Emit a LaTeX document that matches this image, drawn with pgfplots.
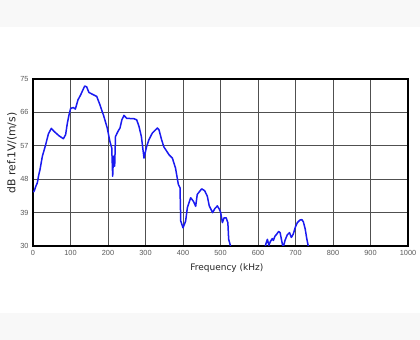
\documentclass[border=0pt]{standalone}
\usepackage{pgfplots}
\pgfplotsset{compat=1.18}
\usepackage{fontspec}
\setmainfont{Liberation Sans}
\newfontfamily\labfont{DejaVu Sans}
\definecolor{bandgray}{HTML}{F8F8F8}
\definecolor{gridgray}{HTML}{505050}
\definecolor{tickgray}{HTML}{5A5A5A}
\definecolor{curveblue}{HTML}{1A1AF0}
\begin{document}
\begin{tikzpicture}[x=1bp,y=1bp]
\useasboundingbox (0,0) rectangle (420,340);
\fill[white] (0,0) rectangle (420,340);
\fill[bandgray] (0,313) rectangle (420,340);
\fill[bandgray] (0,0) rectangle (420,27);
\begin{axis}[
  at={(33bp,94bp)}, anchor=south west,
  scale only axis, width=375bp, height=167bp,
  xmin=0, xmax=1000, ymin=30, ymax=75,
  xtick={0,100,...,1000}, ytick={30,39,48,57,66,75},
  grid=major,
  major grid style={gridgray, line width=0.7bp},
  axis line style={black, line width=1.2bp},
  tick style={draw=none},
  ticklabel style={font=\fontsize{7.4}{8}\selectfont, text=tickgray},
  xticklabel style={yshift=-1bp},
  yticklabel style={xshift=-1bp},
  /pgf/number format/assume math mode=true,
  /pgf/number format/set thousands separator={},
  xlabel={Frequency (kHz)},
  ylabel={dB ref.1V/(m/s)},
  every axis x label/.style={at={(axis description cs:0.517,-0.132)}, anchor=center, font=\labfont\fontsize{9}{10}\selectfont, text=black!85},
  every axis y label/.style={at={(axis description cs:-0.056,0.557)}, anchor=center, rotate=90, font=\labfont\fontsize{10.8}{12}\selectfont, text=black!85},
]
\addplot[curveblue, line width=1.5bp, line join=round] coordinates {
(1,44.5) (4,45) (8,46.2) (11.5,47) (15,49) (18.7,50.6) (25,54.2) (33.8,57.3) (41,60.2)
(48.9,61.7) (56,60.9) (69.3,59.7) (81,58.9) (87,60) (91.6,63.1) (96,65.3) (100.4,67.1)
(107.6,67.3) (113,66.9) (120,69.4) (127,70.7) (137.8,73.1) (143,72.9) (149,71.4)
(158,70.9) (170,70.3) (178.7,68) (189,64.9) (198,61.8) (205,58.2) (210,56.4)
(212.5,48.8) (214.5,54.2) (216,52.5) (217.8,51.5) (220,59.5) (226.7,60.9) (232,61.8)
(237,64) (242.7,65.2) (249.8,64.4) (269,64.3) (276.5,64) (282.7,62.2) (289,59.5)
(296,53.7) (303,56.8) (309,58.6) (318,60.4) (331.6,61.8) (336,61.3) (343,58.6)
(349,56.7) (362.7,54.6) (371.6,53.7) (380,51) (387.6,46.6) (392,45.7) (394,36.7)
(400,34.9) (407,36.7) (411.6,40.3) (420.5,43) (428,42) (433.8,40.7) (438,43.9)
(449.8,45.4) (457.8,44.9) (464.9,43.4) (470,40.8) (479,39) (485,40.1) (491.6,40.8)
(497,39.9) (500.5,39) (505,36.3) (509.6,37.6) (515,37.6) (519.6,36.3) (521.8,31.8)
(528,29.5) (535,26) (560,24) (600,24) (612,26)
(618,29) (621,30.6) (625,31.8) (629,30.2) (633,31.2) (638,32) (641,31.5) (645,32.6)
(650,33.2) (655,33.9) (659,33.6) (663,31.5) (667,29.5) (672,31.5) (678,33) (684,33.6)
(689,32.3) (694,33.2) (700,35.2) (705,36.3) (712,37) (717,37.1) (721,36.5) (726,34.5)
(730,32) (735,29.5) (740,26)
};
\end{axis}
\end{tikzpicture}
\end{document}
